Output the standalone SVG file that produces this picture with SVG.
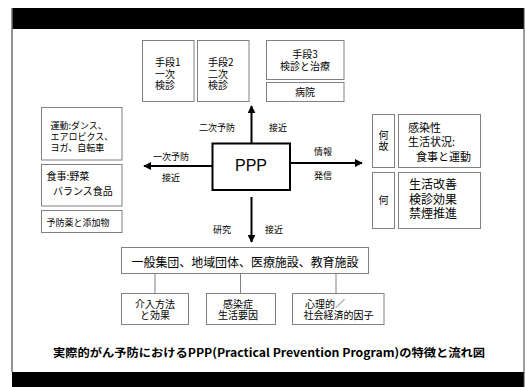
<svg xmlns="http://www.w3.org/2000/svg" width="525" height="387" viewBox="0 0 525 387">
<style>
.box{fill:#fff;stroke:#808080;stroke-width:1}
.t{font-family:"Noto Sans CJK JP","Liberation Sans",sans-serif;fill:#000}
.s9{font-size:9px}
.s10{font-size:10px}
.s11{font-size:11px}
.s12{font-size:12px}
.c{text-anchor:middle}
.ar{stroke:#000;stroke-width:2;fill:none}
.ln{stroke:#808080;stroke-width:1;fill:none}
</style>
<defs>
<marker id="ah" viewBox="0 0 10 10" refX="9" refY="5" markerWidth="4" markerHeight="4" orient="auto" markerUnits="strokeWidth">
<path d="M0,0 L10,5 L0,10 z" fill="#000"/>
</marker>
</defs>
<rect x="0" y="0" width="525" height="387" fill="#fff"/>
<g id="frame">
<rect x="12" y="8" width="512" height="21" fill="#000"/>
<rect x="12" y="372" width="512" height="15" fill="#000"/>
<line x1="12" y1="8" x2="12" y2="372" stroke="#707070" stroke-width="1.5"/>
<line x1="524" y1="8" x2="524" y2="387" stroke="#404040" stroke-width="1"/>
</g>
<g id="connectors">
<line class="ar" x1="251.5" y1="143" x2="251.5" y2="106" marker-end="url(#ah)"/>
<line class="ar" x1="212" y1="166" x2="144" y2="166" marker-end="url(#ah)"/>
<line class="ar" x1="291" y1="163" x2="362" y2="163" marker-end="url(#ah)"/>
<line class="ar" x1="251.5" y1="197" x2="251.5" y2="242" marker-end="url(#ah)"/>
<line class="ln" x1="155" y1="273" x2="155" y2="293"/>
<line class="ln" x1="240.5" y1="273" x2="240.5" y2="293"/>
<line class="ln" x1="336" y1="273" x2="336" y2="293"/>
<text class="t s9 c" x="217" y="131">二次予防</text>
<text class="t s9 c" x="278" y="131">接近</text>
<text class="t s9 c" x="171" y="160">一次予防</text>
<text class="t s9 c" x="171" y="181">接近</text>
<text class="t s9 c" x="323" y="155">情報</text>
<text class="t s9 c" x="323" y="179">発信</text>
<text class="t s9 c" x="222" y="233">研究</text>
<text class="t s9 c" x="274" y="233">接近</text>
</g>
<g id="ppp">
<rect x="212.5" y="143.5" width="77.5" height="46.5" fill="#fff" stroke="#000" stroke-width="2"/>
<text x="251" y="171" font-family="Liberation Sans,Arial,sans-serif" font-size="16" text-anchor="middle">PPP</text>
</g>
<g id="shudan1">
<rect class="box" x="142.5" y="40.5" width="51.5" height="61"/>
<text class="t s10" x="155" y="65.5">手段1</text>
<text class="t s10" x="155" y="77.5">一次</text>
<text class="t s10" x="155" y="88.5">検診</text>
</g>
<g id="shudan2">
<rect class="box" x="197.5" y="40.5" width="51.5" height="61"/>
<text class="t s10" x="208" y="65.5">手段2</text>
<text class="t s10" x="208" y="77.5">二次</text>
<text class="t s10" x="208" y="88.5">検診</text>
</g>
<g id="shudan3">
<rect class="box" x="266.5" y="40.5" width="77.5" height="39"/>
<text class="t s10 c" x="305" y="57.5">手段3</text>
<text class="t s10 c" x="305" y="70">検診と治療</text>
</g>
<g id="byoin">
<rect class="box" x="266.5" y="82.5" width="77.5" height="19"/>
<text class="t s10 c" x="305" y="95.5">病院</text>
</g>
<g id="undo">
<rect class="box" x="41.5" y="107.5" width="80.5" height="52.5"/>
<text class="t s9" x="50.5" y="129">運動:ダンス、</text>
<text class="t s9" x="50.5" y="140">エアロビクス、</text>
<text class="t s9" x="50.5" y="151">ヨガ、自転車</text>
</g>
<g id="shokuji">
<rect class="box" x="41.5" y="164.5" width="80.5" height="41.5"/>
<text class="t s10" x="46.5" y="180">食事:野菜</text>
<text class="t s10" x="53" y="195">バランス食品</text>
</g>
<g id="yobouyaku">
<rect class="box" x="41.5" y="210.5" width="80.5" height="22"/>
<text class="t s9" x="46.5" y="226">予防薬と添加物</text>
</g>
<g id="naze">
<rect class="box" x="372.5" y="114.5" width="22" height="53"/>
<text class="t s10 c" x="383.5" y="138.5">何</text>
<text class="t s10 c" x="383.5" y="150">故</text>
</g>
<g id="kansensei">
<rect class="box" x="398.5" y="114.5" width="82" height="53"/>
<text class="t s11" x="408" y="132">感染性</text>
<text class="t s11" x="408" y="145.5">生活状況:</text>
<text class="t s11" x="416" y="160.5">食事と運動</text>
</g>
<g id="nani">
<rect class="box" x="372.5" y="172.5" width="22" height="56"/>
<text class="t s10 c" x="383.5" y="203.5">何</text>
</g>
<g id="seikatsu">
<rect class="box" x="398.5" y="172.5" width="82" height="56"/>
<text class="t s12" x="409" y="189">生活改善</text>
<text class="t s12" x="409" y="203.5">検診効果</text>
<text class="t s12" x="409" y="217.5">禁煙推進</text>
</g>
<g id="ippan">
<rect class="box" x="121.5" y="247.5" width="247" height="26"/>
<text class="t s12" x="131.5" y="266.5" textLength="227" lengthAdjust="spacing">一般集団、地域団体、医療施設、教育施設</text>
</g>
<g id="kainyu">
<rect class="box" x="121.5" y="293.5" width="67" height="31"/>
<text class="t s10 c" x="155" y="308">介入方法</text>
<text class="t s10 c" x="155" y="319">と効果</text>
</g>
<g id="kansensho">
<rect class="box" x="206.5" y="293.5" width="69" height="31"/>
<text class="t s10 c" x="238" y="308">感染症</text>
<text class="t s10 c" x="238" y="319">生活要因</text>
</g>
<g id="shinri">
<rect class="box" x="292.5" y="293.5" width="91.5" height="31"/>
<text class="t s10" x="305" y="308">心理的／</text>
<text class="t s10 c" x="338.5" y="319">社会経済的因子</text>
</g>
<g id="caption">
<text class="t c" x="269" y="357" font-size="11.5" font-weight="bold" textLength="432" lengthAdjust="spacingAndGlyphs">実際的がん予防におけるPPP(Practical Prevention Program)の特徴と流れ図</text>
</g>
</svg>
